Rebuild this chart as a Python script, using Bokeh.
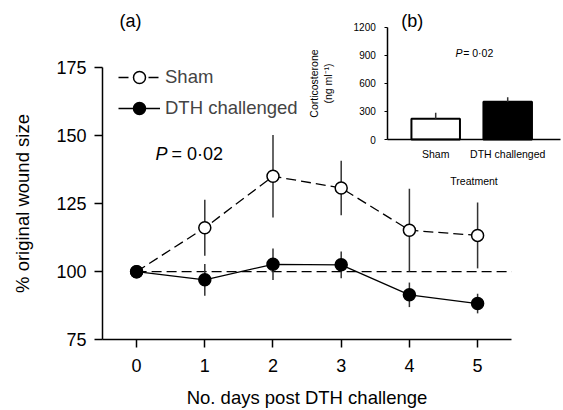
import numpy as np
from bokeh.plotting import figure
from bokeh.models import Range1d, LinearAxis, FixedTicker, Legend, LegendItem
from bokeh.core.properties import value
from bokeh.embed import file_html
from bokeh.resources import INLINE

# ---- data ----
days = [0, 1, 2, 3, 4, 5]
sham = [100, 116.1, 135.0, 130.7, 115.2, 113.3]
sham_err = [0, 10.3, 15.1, 10.0, 15.2, 12.1]
dth = [100, 97.0, 102.7, 102.5, 91.5, 88.3]
dth_err = [0, 5.8, 5.8, 4.9, 4.5, 3.6]
baseline = 100
x_ticks = [0, 1, 2, 3, 4, 5]
y_ticks = [75, 100, 125, 150, 175]

groups = ["Sham", "DTH challenged"]
group_pos = [1, 2]
cort = [221, 403]
cort_err = [64, 49]
cort_ticks = [0, 300, 600, 900, 1200]

FONT = "Liberation Sans"
F = value(FONT)

p = figure(width=562, height=408,
           min_border_left=0, min_border_right=0, min_border_top=0, min_border_bottom=0,
           x_range=Range1d(-1.9956, 6.2449), y_range=Range1d(49.80, 199.47),
           x_axis_location=None, y_axis_location=None,
           output_backend="svg", toolbar_location=None)
p.outline_line_color = None
p.grid.visible = False
p.extra_x_ranges = {"ix": Range1d(-5.0444, 2.7611)}
p.extra_y_ranges = {"iy": Range1d(-2874.5, 1485.4)}

# ---- main axes (placed at the data corner) ----
x_axis = LinearAxis(fixed_location=75, bounds=(-0.5, 5.5), ticker=FixedTicker(ticks=x_ticks),
                    axis_label="No. days post DTH challenge")
y_axis = LinearAxis(fixed_location=-0.5, bounds=(75, 175), ticker=FixedTicker(ticks=y_ticks),
                    axis_label="% original wound size")
for ax in (x_axis, y_axis):
    ax.axis_line_width = 1.5
    ax.major_tick_line_width = 1.5
    ax.minor_tick_line_color = None
    ax.major_tick_in = 0
    ax.major_tick_out = 8
    ax.major_label_text_font = FONT
    ax.major_label_text_font_size = "18px"
    ax.major_label_text_color = "black"
    ax.axis_label_text_font = FONT
    ax.axis_label_text_font_size = "18.5px"
    ax.axis_label_text_font_style = "normal"
    ax.axis_label_text_color = "black"
x_axis.major_label_standoff = 11
x_axis.axis_label_standoff = 12
y_axis.major_label_standoff = 8
y_axis.axis_label_standoff = 20
p.add_layout(x_axis, "below")
p.add_layout(y_axis, "left")

# reference line
p.segment(x0=days[0], y0=baseline, x1=5.5, y1=baseline, line_color="black",
          line_width=1.3, line_dash="10 5")

# error bars
sham_a = np.array(sham); sham_e = np.array(sham_err)
dth_a = np.array(dth); dth_e = np.array(dth_err)
p.segment(x0=days, y0=sham_a - sham_e, x1=days, y1=sham_a + sham_e, line_color="#333333", line_width=1.5)
p.segment(x0=days, y0=dth_a - dth_e, x1=days, y1=dth_a + dth_e, line_color="#333333", line_width=1.5)

# series
l_sham = p.line(days, sham, line_color="black", line_width=1.3, line_dash="10 5")
l_dth = p.line(days, dth, line_color="black", line_width=1.3)
m_sham = p.scatter(days, sham, marker="circle", size=12, fill_color="white", line_color="black", line_width=1.5)
m_dth = p.scatter(days, dth, marker="circle", size=12, fill_color="black", line_color="black", line_width=1.5)

legend = Legend(items=[LegendItem(label="Sham", renderers=[l_sham, m_sham]),
                       LegendItem(label="DTH challenged", renderers=[l_dth, m_dth])],
                location=(118, 285), padding=0, margin=0, spacing=1,
                glyph_width=42, glyph_height=30, label_height=30, label_standoff=5,
                label_text_font=FONT, label_text_font_size="18.5px",
                border_line_color=None, background_fill_alpha=0)
p.add_layout(legend)

# panel letters and P values
p.text(x=[-0.089], y=[192.0], text=["(a)"], text_font=F, text_font_size="18px",
       text_align="center", text_baseline="middle", text_color="black")
p.text(x=[0.277], y=[143.1], text=["P"], text_font=F, text_font_size="18px",
       text_font_style="italic", text_baseline="middle", text_color="black")
p.text(x=[0.512], y=[143.1], text=["= 0·02"], text_font=F, text_font_size="18px",
       text_baseline="middle", text_color="black")

# ---- inset (b) ----
p.vbar(x=group_pos, width=0.674, top=cort, bottom=0, fill_color=["white", "black"],
       line_color="black", line_width=2, x_range_name="ix", y_range_name="iy")
c_a = np.array(cort); c_e = np.array(cort_err)
p.segment(x0=group_pos, y0=c_a, x1=group_pos, y1=c_a + c_e, line_color="#333333", line_width=1.5,
          x_range_name="ix", y_range_name="iy")

iy_axis = LinearAxis(x_range_name="ix", y_range_name="iy", fixed_location=0.335,
                     bounds=(0, 1200), ticker=FixedTicker(ticks=cort_ticks),
                     axis_label="Corticosterone\n(ng ml⁻¹)")
ix_axis = LinearAxis(x_range_name="ix", y_range_name="iy", fixed_location=0,
                     bounds=(0.335, 2.733), ticker=FixedTicker(ticks=group_pos),
                     major_label_overrides={1: groups[0], 2: groups[1]},
                     axis_label="Treatment")
for ax in (iy_axis, ix_axis):
    ax.axis_line_width = 1.5
    ax.major_tick_line_width = 1.2
    ax.minor_tick_line_color = None
    ax.major_tick_in = 0
    ax.major_tick_out = 3
    ax.major_label_text_font = FONT
    ax.major_label_text_color = "black"
    ax.axis_label_text_font = FONT
    ax.axis_label_text_font_size = "10.5px"
    ax.axis_label_text_font_style = "normal"
    ax.axis_label_text_color = "black"
iy_axis.major_label_text_font_size = "10px"
iy_axis.major_label_standoff = 9
iy_axis.axis_label_standoff = 16
ix_axis.major_tick_line_color = None
ix_axis.major_tick_out = 0
ix_axis.major_label_text_font_size = "10.5px"
ix_axis.major_label_standoff = 8
ix_axis.axis_label_standoff = 12
p.add_layout(iy_axis, "left")
p.add_layout(ix_axis, "below")

p.text(x=[0.674], y=[1271.6], text=["(b)"], text_font=F, text_font_size="18px",
       text_align="center", text_baseline="middle", text_color="black",
       x_range_name="ix", y_range_name="iy")
p.text(x=[1.275], y=[926.5], text=["P"], text_font=F, text_font_size="10.5px",
       text_font_style="italic", text_baseline="middle", text_color="black",
       x_range_name="ix", y_range_name="iy")
p.text(x=[1.382], y=[926.5], text=["= 0·02"], text_font=F, text_font_size="10.5px",
       text_baseline="middle", text_color="black",
       x_range_name="ix", y_range_name="iy")

open("out.html", "w").write(file_html(p, INLINE))
